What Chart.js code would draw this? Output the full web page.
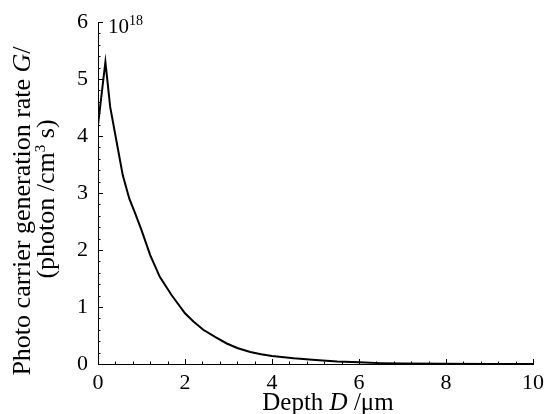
<!DOCTYPE html>
<html>
<head>
<meta charset="utf-8">
<script src="https://cdn.jsdelivr.net/npm/chart.js@4.4.1/dist/chart.umd.min.js"></script>
<style>
  html, body { margin: 0; padding: 0; background: #fff; }
</style>
</head>
<body>
<canvas id="myChart" width="546" height="414"></canvas>
<script>
// depth in um, generation rate in units of 1e18 photon/(cm^3 s)
const depth = [0, 0.17, 0.28, 0.42, 0.57, 0.72, 0.85, 1.0, 1.2, 1.42, 1.69, 2.0, 2.2, 2.42, 2.7, 2.96, 3.2, 3.5, 3.75, 4.0, 4.5, 5.0, 5.5, 6.0, 6.5, 7.0, 8.0, 9.0, 10.0];
const rate = [4.19, 5.3, 4.51, 3.93, 3.31, 2.9, 2.65, 2.35, 1.91, 1.53, 1.21, 0.89, 0.74, 0.6, 0.47, 0.36, 0.28, 0.21, 0.17, 0.14, 0.1, 0.07, 0.045, 0.03, 0.015, 0.008, 0.003, 0.001, 0];

const xTickLabels = [0, 2, 4, 6, 8, 10];
const yTickLabels = [0, 1, 2, 3, 4, 5, 6];

const serif = '"Liberation Serif", "Times New Roman", serif';

// inward major/minor ticks, exponent label and axis titles
const decor = {
  id: 'decor',
  afterDraw(chart) {
    const ctx = chart.ctx;
    const xs = chart.scales.x;
    const ys = chart.scales.y;
    ctx.save();
    ctx.strokeStyle = '#000';
    ctx.lineWidth = 1;
    ctx.beginPath();
    for (let i = 0; i <= 30; i++) {
      const v = i * 0.2;
      const p = Math.round(ys.getPixelForValue(v)) + 0.5;
      const len = i % 5 === 0 ? 5 : 2.5;
      ctx.moveTo(xs.left, p);
      ctx.lineTo(xs.left + len, p);
    }
    for (let i = 0; i <= 25; i++) {
      const v = i * 0.4;
      const p = Math.round(xs.getPixelForValue(v)) + 0.5;
      const len = i % 5 === 0 ? 5 : 2.5;
      ctx.moveTo(p, ys.bottom);
      ctx.lineTo(p, ys.bottom - len);
    }
    ctx.stroke();

    ctx.fillStyle = '#000';
    ctx.textBaseline = 'alphabetic';
    // 10^18
    ctx.textAlign = 'left';
    ctx.font = '21px ' + serif;
    ctx.fillText('10', xs.left + 10, 33);
    ctx.font = '14px ' + serif;
    ctx.fillText('18', xs.left + 31, 25);

    // x title with italic D
    const parts = [['Depth ', ''], ['D', 'italic '], [' /\u03bcm', '']];
    let total = 0;
    parts.forEach(p => { ctx.font = p[1] + '25px ' + serif; total += ctx.measureText(p[0]).width; });
    let x0 = 328 - total / 2;
    parts.forEach(p => {
      ctx.font = p[1] + '25px ' + serif;
      ctx.fillText(p[0], x0, 410);
      x0 += ctx.measureText(p[0]).width;
    });

    // y title, two rotated lines
    ctx.rotate(-Math.PI / 2);
    const line1 = [['Photo carrier generation rate ', ''], ['G', 'italic '], ['/', '']];
    total = 0;
    line1.forEach(p => { ctx.font = p[1] + '26px ' + serif; total += ctx.measureText(p[0]).width; });
    let y0 = -211 - total / 2;
    line1.forEach(p => {
      ctx.font = p[1] + '26px ' + serif;
      ctx.fillText(p[0], y0, 30);
      y0 += ctx.measureText(p[0]).width;
    });
    const line2 = [['(photon /cm', '26px '], ['3', '15px '], [' s)', '26px ']];
    total = 0;
    line2.forEach(p => { ctx.font = p[1] + serif; total += ctx.measureText(p[0]).width; });
    y0 = -199 - total / 2;
    line2.forEach(p => {
      ctx.font = p[1] + serif;
      ctx.fillText(p[0], y0, p[0] === '3' ? 45 : 54);
      y0 += ctx.measureText(p[0]).width;
    });
    ctx.restore();
  }
};

const data = {
  datasets: [{
    data: depth.map((d, i) => ({ x: d, y: rate[i] })),
    borderColor: '#000',
    borderWidth: 2,
    pointRadius: 0,
    fill: false,
    tension: 0,
  }],
};

const config = {
  type: 'line',
  data: data,
  options: {
    responsive: false,
    animation: false,
    layout: { padding: { top: 22, right: 13, left: 0, bottom: 0 } },
    plugins: { legend: { display: false }, tooltip: { enabled: false } },
    scales: {
      x: {
        type: 'linear',
        min: 0,
        max: 10,
        afterBuildTicks: (s) => { s.ticks = xTickLabels.map(v => ({ value: v })); },
        afterFit: (s) => { s.height = 50; s.paddingRight = 0; s.paddingLeft = 0; },
        grid: { display: true, drawOnChartArea: false, drawTicks: false },
        border: { display: true, color: '#000', width: 1 },
        ticks: { color: '#000', padding: 6, maxRotation: 0, font: { family: serif, size: 22 } },
      },
      y: {
        min: 0,
        max: 6,
        afterBuildTicks: (s) => { s.ticks = yTickLabels.map(v => ({ value: v })); },
        afterFit: (s) => { s.width = 98; s.paddingTop = 0; s.paddingBottom = 0; },
        grid: { display: true, drawOnChartArea: false, drawTicks: false },
        border: { display: true, color: '#000', width: 1 },
        ticks: { color: '#000', padding: 10, font: { family: serif, size: 22 } },
      },
    },
  },
  plugins: [decor],
};

const myChart = new Chart(document.getElementById('myChart'), config);
</script>
</body>
</html>
